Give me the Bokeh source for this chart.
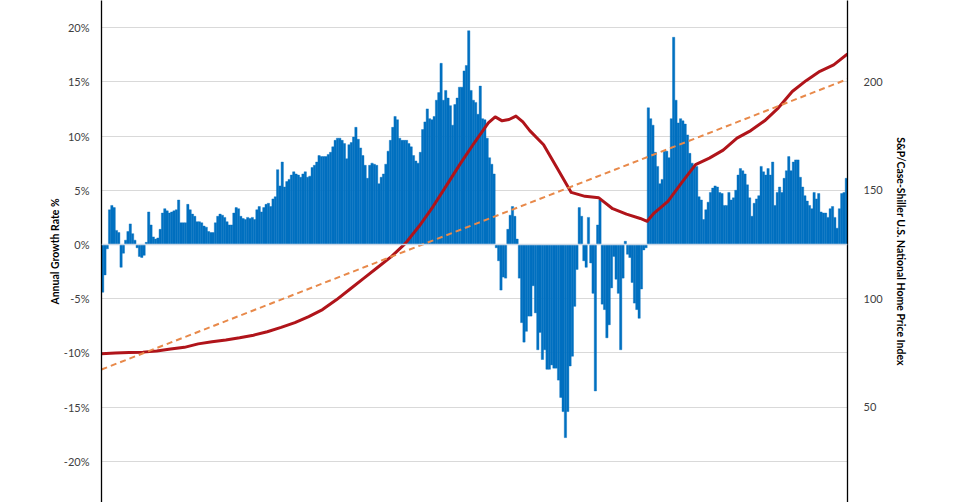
from bokeh.plotting import figure
from bokeh.models import Range1d, LinearAxis, FixedTicker, CustomJSTickFormatter, Span, ColumnDataSource
from bokeh.embed import file_html
from bokeh.resources import INLINE

# Annual growth rate (%), monthly, 27 years x 12 months
growth_pct = [
    -4.4, -2.8, -0.4, 3.2, 3.6, 3.4, 1.3, 1.1, -2.1, -0.8, 0.4, 1.2,
    1.9, 1.0, 0.4, -0.3, -1.1, -1.2, -1.0, 0.2, 3.0, 1.8, 0.7, 0.5,
    0.6, 1.4, 2.9, 3.3, 3.1, 2.9, 3.0, 3.1, 3.2, 4.1, 2.0, 2.0,
    2.0, 3.7, 3.2, 2.8, 2.6, 2.1, 2.1, 2.0, 1.7, 1.6, 1.2, 1.1,
    1.1, 2.0, 2.6, 2.8, 2.7, 2.5, 2.1, 1.8, 1.8, 2.9, 3.4, 3.3,
    2.6, 2.4, 2.3, 2.5, 2.4, 2.5, 2.3, 3.2, 3.5, 3.0, 3.4, 3.7,
    3.8, 3.5, 4.2, 4.4, 6.9, 5.4, 7.6, 5.3, 5.8, 6.0, 6.4, 6.7,
    6.5, 6.4, 6.2, 6.5, 6.7, 6.2, 6.3, 7.1, 7.3, 7.6, 8.2, 8.1,
    8.1, 8.1, 8.3, 8.5, 9.0, 9.6, 9.8, 9.8, 9.6, 9.3, 7.9, 9.2,
    9.4, 9.9, 10.8, 9.7, 8.9, 8.2, 7.3, 6.1, 7.3, 7.5, 7.4, 7.3,
    5.6, 6.2, 6.5, 7.4, 8.6, 9.6, 10.8, 11.8, 11.5, 9.8, 9.6, 9.6,
    9.6, 9.3, 9.0, 8.2, 7.7, 7.5, 8.5, 10.6, 11.3, 12.5, 11.6, 11.5,
    11.8, 13.3, 14.0, 16.7, 13.3, 14.2, 13.5, 12.8, 11.0, 12.9, 13.5, 14.5,
    14.5, 16.0, 16.5, 19.7, 14.2, 13.3, 13.1, 12.0, 14.6, 11.6, 11.5, 9.8,
    8.0, 7.4, 6.5, -0.3, -1.5, -4.2, -3.0, -3.1, 1.4, 2.7, 3.5, 2.6,
    0.5, -3.1, -7.2, -9.0, -8.0, -6.6, -6.6, -3.8, -6.3, -9.7, -8.1, -10.6,
    -9.7, -11.5, -11.5, -11.1, -11.4, -11.4, -12.5, -14.1, -15.4, -17.8, -15.4, -11.2,
    -10.3, -5.7, -2.3, 3.4, 2.6, -1.5, -2.1, 2.5, -1.7, -4.5, -13.5, 1.8,
    4.1, -5.5, -6.0, -8.6, -7.4, -4.0, -1.1, -3.2, -4.5, -9.7, -3.1, 0.3,
    -0.9, -1.2, -3.5, -5.4, -6.0, -6.8, -4.1, -0.5, -0.3, 12.6, 11.6, 11.0,
    8.5, 7.2, 5.6, 6.0, 8.6, 8.6, 8.0, 11.6, 19.1, 13.3, 11.2, 11.6,
    11.4, 11.1, 10.1, 8.4, 7.5, 7.2, 7.2, 4.4, 4.1, 2.3, 3.2, 3.9,
    4.8, 5.2, 5.4, 5.3, 4.8, 4.7, 3.6, 3.6, 4.8, 4.1, 4.3, 5.0,
    6.4, 7.0, 6.8, 6.5, 5.5, 4.3, 2.6, 3.8, 4.2, 4.5, 7.2, 6.7,
    6.4, 7.0, 6.4, 7.6, 3.6, 4.8, 5.3, 4.8, 6.1, 6.8, 8.1, 6.8,
    7.6, 7.8, 7.8, 6.2, 5.3, 4.5, 4.0, 3.6, 3.3, 4.8, 4.2, 4.7,
    3.0, 2.9, 2.9, 2.5, 3.3, 3.5, 2.5, 1.5, 3.3, 4.7, 4.8, 6.1,
]

# S&P/Case-Shiller index, sampled at month offsets
index_month = [0, 6, 12, 18, 24, 30, 36, 42, 48, 54, 60, 66, 72, 78, 84, 90, 96,
               102, 108, 114, 120, 126, 132, 138, 144, 150, 156, 162, 168, 171,
               174, 177, 180, 183, 186, 192, 198, 204, 210, 216, 222, 228, 234,
               237, 240, 246, 252, 258, 264, 270, 276, 282, 288, 294, 300, 306,
               312, 318, 324]
index_value = [74.7, 75.0, 75.2, 75.4, 75.9, 76.8, 77.6, 79.2, 80.2, 81.0, 82.0,
               83.2, 84.8, 86.8, 89.0, 91.8, 95.0, 99.5, 104.5, 109.5, 114.5,
               119.5, 125.5, 133.5, 142.5, 152.5, 162.5, 172.0, 181.0, 183.8,
               182.0, 182.6, 184.2, 181.5, 177.5, 171.0, 160.0, 149.0, 147.2,
               146.5, 141.5, 139.0, 137.0, 135.7, 139.5, 144.9, 153.5, 161.8,
               164.8, 168.5, 174.0, 177.5, 182.0, 188.0, 195.5, 200.5, 204.8,
               207.8, 212.8]

# Linear trend of the index (end points)
trend_month = [0, 324]
trend_value = [67.4, 201.2]

left_ticks = [-20, -15, -10, -5, 0, 5, 10, 15, 20]
right_ticks = [50, 100, 150, 200]

FONT = "Lato"

n = len(growth_pct)
bars = ColumnDataSource(dict(x=[i + 0.5 for i in range(n)], top=growth_pct))

p = figure(width=960, height=502, output_backend="svg", toolbar_location=None,
           x_range=Range1d(0, n), y_range=Range1d(-23.78, 22.49),
           x_axis_location=None,
           min_border_left=101, min_border_right=113,
           min_border_top=0, min_border_bottom=0)
p.outline_line_color = None
p.background_fill_color = "white"
p.border_fill_color = "white"
p.xgrid.visible = False
p.ygrid.ticker = FixedTicker(ticks=left_ticks)
p.ygrid.grid_line_color = "#d9d9d9"
p.ygrid.grid_line_width = 1

p.extra_y_ranges = {"hpi": Range1d(6.1, 237.45)}

p.vbar(x="x", top="top", bottom=0, width=1.0, source=bars,
       fill_color="#0070C0", line_color="#0070C0", line_width=0.4)

p.add_layout(Span(location=0, dimension="width", line_color="#c9d7e6", line_width=1.5))

p.line(index_month, index_value, y_range_name="hpi", line_color="#B0141A",
       line_width=3, line_join="round")
p.line(trend_month, trend_value, y_range_name="hpi", line_color="#E8894A",
       line_width=2, line_dash="6 4")

ya = p.yaxis[0]
ya.ticker = FixedTicker(ticks=left_ticks)
ya.formatter = CustomJSTickFormatter(code="return tick.toFixed(0) + '%';")
ya.axis_label = "Annual Growth Rate %"

ra = LinearAxis(y_range_name="hpi", ticker=FixedTicker(ticks=right_ticks),
                axis_label="S&P/Case-Shiller U.S. National Home Price Index")
p.add_layout(ra, "right")

for ax in [ya, ra]:
    ax.axis_line_color = "black"
    ax.axis_line_width = 1.3
    ax.major_tick_line_color = None
    ax.minor_tick_line_color = None
    ax.major_label_text_font = FONT
    ax.major_label_text_font_size = "11px"
    ax.major_label_text_color = "#404040"
    ax.axis_label_text_font = FONT
    ax.axis_label_text_font_size = "10.5px"
    ax.axis_label_text_font_style = "bold"
    ax.axis_label_text_color = "black"
ya.major_label_standoff = 6
ra.major_label_standoff = 10
ya.axis_label_standoff = 0
ra.axis_label_standoff = 9

open("out.html", "w").write(file_html(p, INLINE))
